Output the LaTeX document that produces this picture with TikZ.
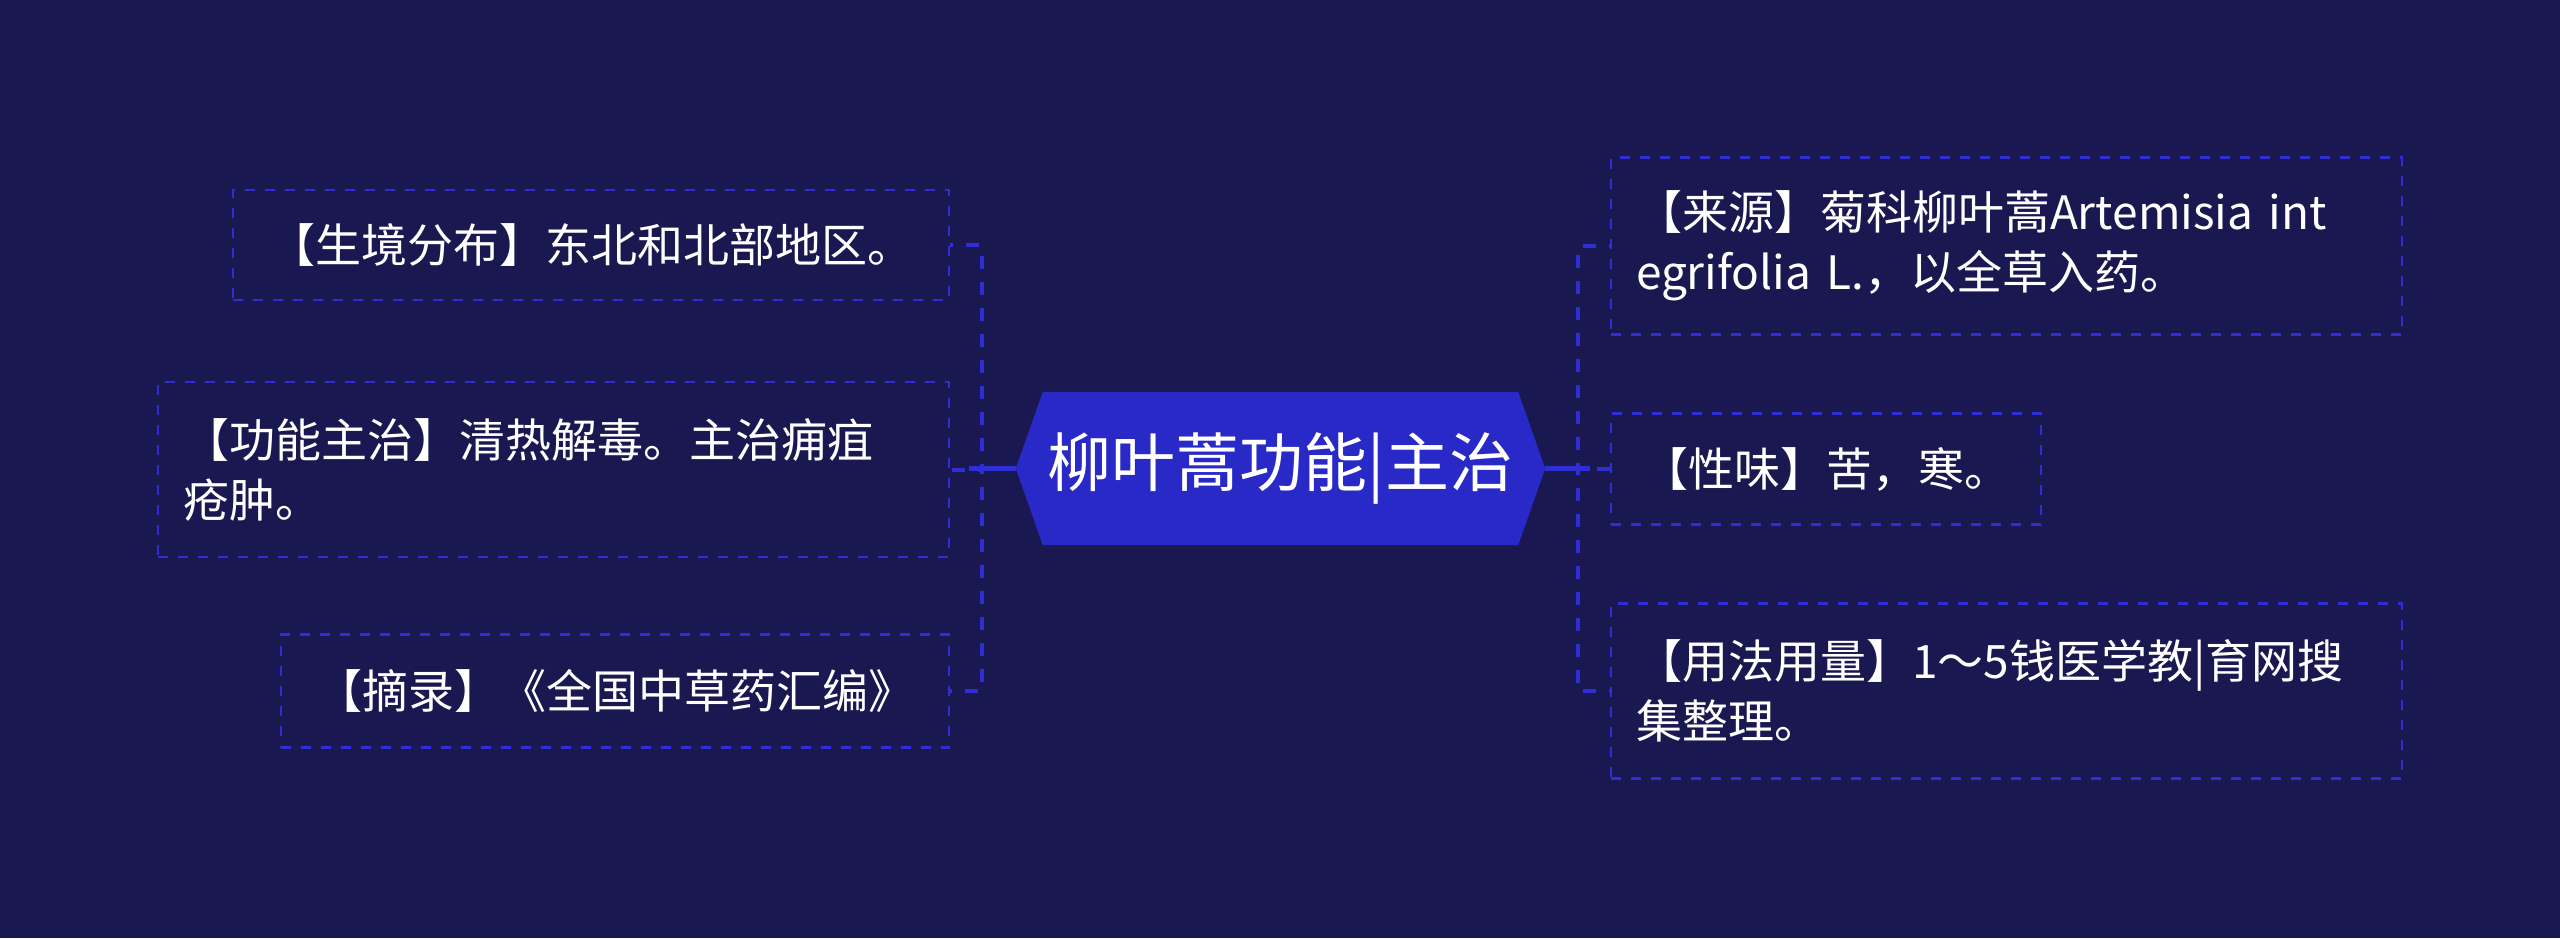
\documentclass[tikz,border=0pt]{standalone}
\usepackage{fontspec}
\setmainfont{Noto Sans CJK SC}
\usetikzlibrary{backgrounds}
\definecolor{bgc}{HTML}{1A1851}
\definecolor{hexc}{HTML}{2929C8}
\definecolor{linec}{HTML}{2E2ED4}
\pgfdeclarelayer{bottom}
\pgfsetlayers{bottom,background,main}
\tikzset{
  box/.style={draw=linec, dash pattern=on 10pt off 10pt, line width=2.5pt,
    text=white, inner xsep=25pt, inner ysep=0pt,
    font=\fontsize{46}{60}\selectfont},
  multibox/.style={box, align=left},
  singlebox/.style={box, align=center},
  conn/.style={draw=linec, line width=4pt, dash pattern=on 13pt off 13pt},
  hub/.style={draw=linec, line width=5pt},
  center/.style={text=white, inner sep=0pt, minimum width=529pt, minimum height=153pt,
    font=\fontsize{64}{72}\selectfont}
}
\begin{document}
\begin{tikzpicture}[x=1pt,y=-1pt]
\begin{pgfonlayer}{bottom}
\fill[bgc] (0,0) rectangle (2560,938);
\end{pgfonlayer}
\useasboundingbox (0,0) rectangle (2560,938);

\node[center] (c) at (1280.5,468.5) {柳叶蒿功能|主治};
\begin{pgfonlayer}{background}
\fill[hexc] ([xshift=27pt]c.north west) -- ([xshift=-27pt]c.north east) -- (c.east)
  -- ([xshift=-27pt]c.south east) -- ([xshift=27pt]c.south west) -- (c.west) -- cycle;
\end{pgfonlayer}

% left
\node[singlebox, minimum width=716pt, minimum height=110pt] (l1) at (591,245) {【生境分布】东北和北部地区。};
\node[multibox, text width=741pt, minimum height=175pt] (l2) at (553.5,469.5) {【功能主治】清热解毒。主治痈疽\\疮肿。};
\node[singlebox, minimum width=668pt, minimum height=113pt] (l3) at (615,691) {【摘录】《全国中草药汇编》};

% right
\node[multibox, text width=741pt, minimum height=177pt] (r1) at (2006.5,246) {【来源】菊科柳叶蒿Artemisia int\\egrifolia L.，以全草入药。};
\node[singlebox, minimum width=430pt, minimum height=111pt] (r2) at (1826,469) {【性味】苦，寒。};
\node[multibox, text width=741pt, minimum height=175pt] (r3) at (2006.5,691) {【用法用量】1～5钱医学教|育网搜\\集整理。};

% connectors
\foreach \n in {l1,l2,l3}{
  \draw[conn] (c.west) -- ++(-34,0) |- (\n.east);
}
\foreach \n in {r1,r2,r3}{
  \draw[conn] (c.east) -- ++(33,0) |- (\n.west);
}
\draw[hub] (c.west) -- ++(-47,0);
\draw[hub] (c.east) -- ++(45,0);
\end{tikzpicture}
\end{document}
